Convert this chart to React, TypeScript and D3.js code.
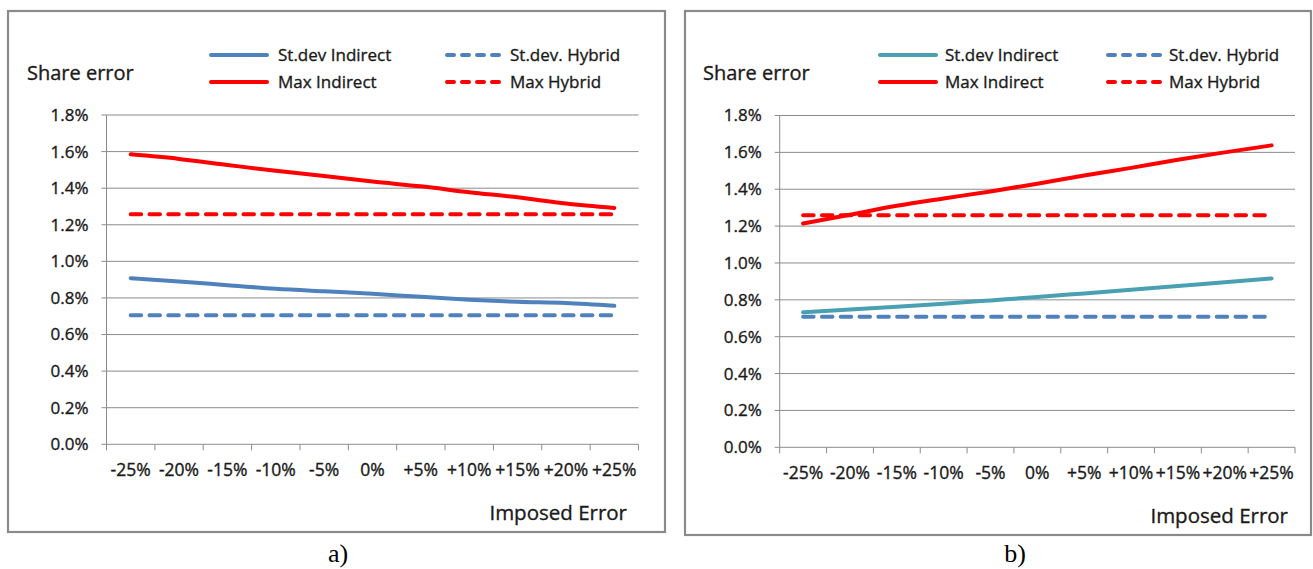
import React from "react";
import * as d3 from "d3";

const categories = ["-25%", "-20%", "-15%", "-10%", "-5%", "0%", "+5%", "+10%", "+15%", "+20%", "+25%"];
const yTicks = [0, 0.2, 0.4, 0.6, 0.8, 1.0, 1.2, 1.4, 1.6, 1.8];

// Panel a values (percent)
const aStdIndirect = [0.908, 0.89, 0.87, 0.85, 0.836, 0.823, 0.806, 0.79, 0.779, 0.772, 0.757];
const aStdHybrid = [0.705, 0.705, 0.705, 0.705, 0.705, 0.705, 0.705, 0.705, 0.705, 0.705, 0.705];
const aMaxIndirect = [1.585, 1.56, 1.527, 1.495, 1.467, 1.436, 1.41, 1.378, 1.35, 1.316, 1.292];
const aMaxHybrid = [1.258, 1.258, 1.258, 1.258, 1.258, 1.258, 1.258, 1.258, 1.258, 1.258, 1.258];

// Panel b values (percent)
const bStdIndirect = [0.732, 0.748, 0.762, 0.779, 0.797, 0.815, 0.835, 0.855, 0.875, 0.895, 0.916];
const bStdHybrid = [0.708, 0.708, 0.708, 0.708, 0.708, 0.708, 0.708, 0.708, 0.708, 0.708, 0.708];
const bMaxIndirect = [1.214, 1.262, 1.31, 1.35, 1.388, 1.43, 1.475, 1.516, 1.56, 1.6, 1.638];
const bMaxHybrid = [1.259, 1.259, 1.259, 1.259, 1.259, 1.259, 1.259, 1.259, 1.259, 1.259, 1.259];

const seriesNames = ["St.dev Indirect", "St.dev. Hybrid", "Max Indirect", "Max Hybrid"];

const FONT = "'Open Sans', 'Noto Sans', sans-serif";
const GRID = "#8c8c8c";
const BLUE = "#4F81BD";
const TEAL = "#48A0B2";
const RED = "#FF0000";
const TXT = "#1a1a1a";
const TXT_STROKE = 0.35;

type PanelProps = {
  box: { x0: number; y0: number; x1: number; y1: number };
  plot: { x0: number; x1: number; yBottom: number; yTop: number };
  legend: { solidX: number; dashX: number; lineLen: number; dashLen: number; textGap: number };
  shareX: number;
  imposedRight: number;
  imposedY: number;
  stdColor: string;
  data: number[][];
  caption: string;
  captionX: number;
};

function Panel(p: PanelProps) {
  const x = d3.scaleBand<string>().domain(categories).range([p.plot.x0, p.plot.x1]).padding(0);
  const y = d3.scaleLinear().domain([0, 1.8]).range([p.plot.yBottom, p.plot.yTop]);
  const line = d3
    .line<number>()
    .x((_, i) => (x(categories[i]) as number) + x.bandwidth() / 2)
    .y((d) => y(d))
    .curve(d3.curveMonotoneX);
  const colors = [p.stdColor, BLUE, RED, RED];
  const dashed = [false, true, false, true];
  const dash = "10.5 8.3";
  const boundaries = [...categories.map((c) => x(c) as number), p.plot.x1];
  const legendRows = [55, 82];
  const textProps = { fontFamily: FONT, fill: TXT, stroke: TXT, strokeWidth: TXT_STROKE };
  return (
    <g>
      <rect
        x={p.box.x0}
        y={p.box.y0}
        width={p.box.x1 - p.box.x0}
        height={p.box.y1 - p.box.y0}
        fill="white"
        stroke="#8a8a8a"
        strokeWidth={2.2}
      />
      {yTicks.map((t) => (
        <g key={t}>
          <line x1={p.plot.x0 - 5} x2={p.plot.x1} y1={y(t)} y2={y(t)} stroke={GRID} strokeWidth={1} />
          <text x={p.plot.x0 - 18} y={y(t)} dy="0.35em" textAnchor="end" fontSize={17} {...textProps}>
            {t.toFixed(1) + "%"}
          </text>
        </g>
      ))}
      <line x1={p.plot.x0} x2={p.plot.x0} y1={p.plot.yTop} y2={p.plot.yBottom} stroke={GRID} strokeWidth={1} />
      {boundaries.map((b, i) => (
        <line key={i} x1={b} x2={b} y1={p.plot.yBottom} y2={p.plot.yBottom + 6} stroke={GRID} strokeWidth={1} />
      ))}
      {categories.map((c) => (
        <text
          key={c}
          x={(x(c) as number) + x.bandwidth() / 2}
          y={p.plot.yBottom + 26}
          dy="0.35em"
          textAnchor="middle"
          fontSize={17.5}
          {...textProps}
        >
          {c}
        </text>
      ))}
      {p.data.map((s, i) => (
        <path
          key={i}
          d={line(s) || ""}
          fill="none"
          stroke={colors[i]}
          strokeWidth={4}
          strokeLinecap="round"
          strokeDasharray={dashed[i] ? dash : undefined}
        />
      ))}
      {seriesNames.map((n, i) => {
        const col = i % 2;
        const row = Math.floor(i / 2);
        const lx = col === 0 ? p.legend.solidX : p.legend.dashX;
        const len = col === 0 ? p.legend.lineLen : p.legend.dashLen;
        const ly = legendRows[row];
        return (
          <g key={n}>
            <line
              x1={lx + 2}
              x2={lx + len - 2}
              y1={ly}
              y2={ly}
              stroke={colors[i]}
              strokeWidth={4}
              strokeLinecap="round"
              strokeDasharray={dashed[i] ? "7 8" : undefined}
            />
            <text x={lx + len + p.legend.textGap} y={ly} dy="0.35em" fontSize={17} {...textProps}>
              {n}
            </text>
          </g>
        );
      })}
      <text x={p.shareX} y={73} dy="0.35em" fontSize={20} {...textProps}>
        Share error
      </text>
      <text x={p.imposedRight} y={p.imposedY} dy="0.35em" textAnchor="end" fontSize={20.5} {...textProps}>
        Imposed Error
      </text>
      <text
        x={p.captionX}
        y={553}
        dy="0.35em"
        textAnchor="middle"
        fontFamily="'Liberation Serif', 'Times New Roman', serif"
        fontSize={26}
        fill="#000"
      >
        {p.caption}
      </text>
    </g>
  );
}

export default function App() {
  return (
    <svg width={1313} height={569} style={{ position: "absolute", left: 0, top: 0, background: "white" }}>
      <rect x={0} y={0} width={1313} height={569} fill="white" />
      <Panel
        box={{ x0: 8, y0: 11, x1: 665, y1: 532 }}
        plot={{ x0: 106.5, x1: 638.5, yBottom: 444.3, yTop: 115 }}
        legend={{ solidX: 209, dashX: 445, lineLen: 60, dashLen: 56, textGap: 9 }}
        shareX={27}
        imposedRight={627}
        imposedY={513}
        stdColor={BLUE}
        data={[aStdIndirect, aStdHybrid, aMaxIndirect, aMaxHybrid]}
        caption="a)"
        captionX={338}
      />
      <Panel
        box={{ x0: 685, y0: 11, x1: 1311, y1: 535 }}
        plot={{ x0: 779.7, x1: 1295, yBottom: 447.3, yTop: 115.5 }}
        legend={{ solidX: 878, dashX: 1106, lineLen: 60, dashLen: 56, textGap: 7 }}
        shareX={703}
        imposedRight={1288}
        imposedY={516}
        stdColor={TEAL}
        data={[bStdIndirect, bStdHybrid, bMaxIndirect, bMaxHybrid]}
        caption="b)"
        captionX={1015}
      />
    </svg>
  );
}
